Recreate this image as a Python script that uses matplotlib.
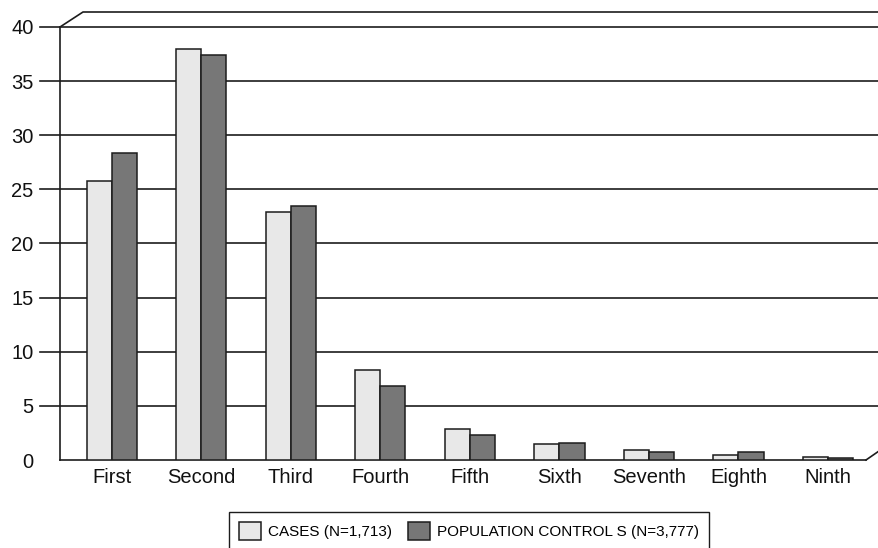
import matplotlib
matplotlib.use("Agg")
import matplotlib.pyplot as plt
import numpy as np
from matplotlib.lines import Line2D

plt.rcParams["font.family"] = ["Liberation Sans", "DejaVu Sans"]

categories = ["First", "Second", "Third", "Fourth", "Fifth",
              "Sixth", "Seventh", "Eighth", "Ninth"]
cases = [25.8, 38.0, 22.9, 8.3, 2.9, 1.45, 0.9, 0.45, 0.25]
controls = [28.4, 37.4, 23.5, 6.8, 2.35, 1.55, 0.7, 0.75, 0.22]
case_label = "CASES (N=1,713)"
control_label = "POPULATION CONTROL S (N=3,777)"
yticks = [0, 5, 10, 15, 20, 25, 30, 35, 40]

W, H = 879, 548
fig = plt.figure(figsize=(W / 100, H / 100), dpi=100)
# axes box in pixels: x 60..866, y 27..460 (from top)
ax = fig.add_axes([60 / W, (H - 460) / H, 806 / W, 433 / H])

ink = "#1c1c1c"
x = np.arange(len(categories))
bw = 0.28
ax.bar(x - bw / 2, cases, bw, color="#e8e8e8", edgecolor=ink, linewidth=1.1,
       zorder=3, label=case_label)
ax.bar(x + bw / 2, controls, bw, color="#777777", edgecolor=ink, linewidth=1.1,
       zorder=3, label=control_label)

ax.set_xlim(-0.58, 8.425)
ax.set_ylim(0, 40)

# gridlines run from the tick stub across the back wall to the figure edge
x0 = -20 / 806
x1 = (W - 60) / 806
for v in yticks[1:]:
    ax.axhline(v, xmin=x0, xmax=x1, color=ink, linewidth=1.2,
               clip_on=False, zorder=1)

# pseudo-3D back wall edges
dx, dy = 23 / 806, 15 / 433
ax.add_line(Line2D([0, dx, x1], [1, 1 + dy, 1 + dy], transform=ax.transAxes,
                   color=ink, linewidth=1.2, clip_on=False))
ax.add_line(Line2D([1, 1 + 13 / 806], [0, 9 / 433], transform=ax.transAxes,
                   color=ink, linewidth=1.2, clip_on=False))

for side in ("top", "right"):
    ax.spines[side].set_visible(False)
for side in ("left", "bottom"):
    ax.spines[side].set_color(ink)
    ax.spines[side].set_linewidth(1.2)

ax.set_yticks(yticks)
ax.set_xticks(x)
ax.set_xticklabels(categories)
ax.tick_params(axis="y", length=0, pad=19, labelsize=14.5, labelcolor="#111111")
ax.tick_params(axis="x", length=0, pad=6, labelsize=14.5, labelcolor="#111111")

leg = fig.legend(loc="upper left", bbox_to_anchor=(229 / W, (H - 512) / H),
                 ncol=2, fontsize=11, frameon=True, fancybox=False,
                 handlelength=1.44, handleheight=1.44, handletextpad=0.46,
                 columnspacing=1.05, borderpad=0.65, borderaxespad=0)
leg.get_frame().set_edgecolor(ink)
leg.get_frame().set_linewidth(1.0)
leg.get_frame().set_alpha(1)

fig.savefig("out.png", dpi=100)
